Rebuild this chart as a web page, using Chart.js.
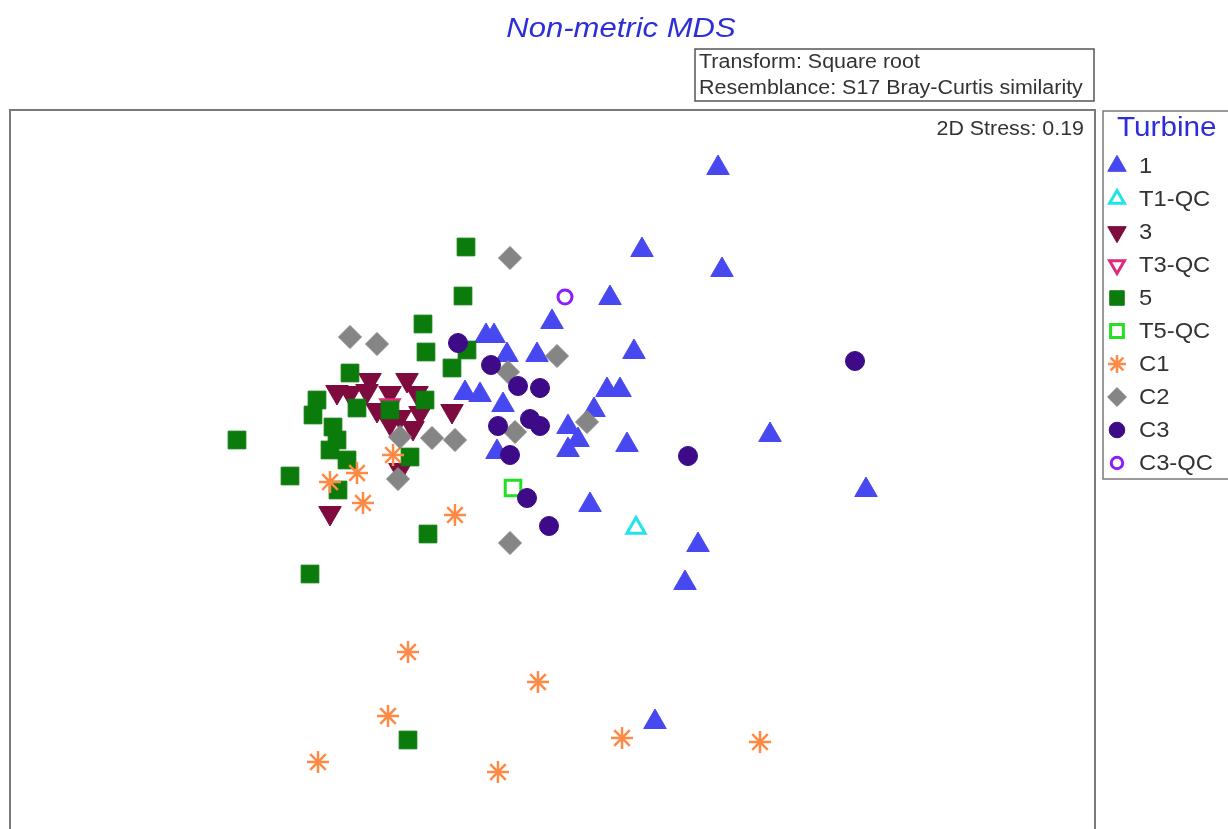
<!DOCTYPE html>
<html>
<head>
<meta charset="utf-8">
<title>Non-metric MDS</title>
<script src="https://cdn.jsdelivr.net/npm/chart.js@4.4.1/dist/chart.umd.min.js"></script>
<style>
  html, body { margin: 0; padding: 0; background: #fff; }
  #wrap { width: 1228px; height: 829px; }
</style>
</head>
<body>
<div id="wrap"><canvas id="mds" width="1228" height="829"></canvas></div>
<script>
// MDS coordinates (arbitrary units, one unit ~ 100px)
const turbine1 = [[1.68,3.32],[0.92,2.50],[1.72,2.30],[0.60,2.02],[0.02,1.78],[0.84,1.48],
  [-0.64,1.64],[-0.56,1.64],[-0.43,1.45],[-0.13,1.45],[-0.85,1.07],[-0.70,1.05],[-0.47,0.95],
  [0.57,1.10],[0.70,1.10],[0.44,0.90],[0.18,0.73],[0.28,0.60],[0.18,0.50],[0.77,0.55],
  [-0.53,0.48],[0.40,-0.05],[2.20,0.65],[3.16,0.10],[1.48,-0.45],[1.35,-0.83],[1.05,-2.22]];
const turbine1QC = [[0.86,-0.28]];
const turbine3 = [[-1.80,1.20],[-1.43,1.20],[-2.13,1.08],[-2.00,1.07],[-1.83,1.09],[-1.60,1.07],
  [-1.33,1.07],[-1.73,0.90],[-1.30,0.87],[-1.50,0.83],[-1.60,0.77],[-1.37,0.72],[-0.98,0.89],
  [-1.50,0.30],[-2.20,-0.13]];
const turbine3QC = [[-1.60,0.95]];
const turbine5 = [[-0.84,2.53],[-0.87,2.04],[-1.27,1.76],[-1.24,1.48],[-0.83,1.50],[-0.98,1.32],
  [-2.00,1.27],[-2.33,1.00],[-1.93,0.92],[-2.37,0.85],[-1.25,1.00],[-1.60,0.90],[-2.17,0.73],
  [-2.13,0.60],[-2.20,0.50],[-2.03,0.40],[-1.40,0.43],[-3.13,0.60],[-2.60,0.24],[-2.12,0.10],
  [-1.22,-0.34],[-2.40,-0.74],[-1.42,-2.40]];
const turbine5QC = [[-0.37,0.12]];
const control1 = [[-1.93,0.27],[-2.20,0.18],[-1.87,-0.03],[-1.57,0.45],[-0.95,-0.15],[-1.42,-1.52],
  [-0.12,-1.82],[-1.62,-2.16],[-2.32,-2.62],[-0.52,-2.72],[0.72,-2.38],[2.10,-2.42]];
const control2 = [[-0.40,2.42],[-2.00,1.63],[-1.73,1.56],[0.07,1.44],[-0.42,1.28],[0.37,0.78],
  [-0.35,0.68],[-1.50,0.63],[-1.18,0.62],[-0.95,0.60],[-1.52,0.21],[-0.40,-0.43]];
const control3 = [[-0.92,1.57],[-0.59,1.35],[-0.32,1.14],[-0.10,1.12],[-0.20,0.81],[-0.10,0.74],
  [-0.52,0.74],[-0.40,0.45],[-0.23,0.02],[-0.01,-0.26],[1.38,0.44],[3.05,1.39]];
const control3QC = [[0.15,2.03]];

const groupLabels = ['1', 'T1-QC', '3', 'T3-QC', '5', 'T5-QC', 'C1', 'C2', 'C3', 'C3-QC'];
const groupData = [turbine1, turbine1QC, turbine3, turbine3QC, turbine5, turbine5QC,
  control1, control2, control3, control3QC];

// marker styles, same order as the labels
const markers = [
  { style: 'triangle', rot: 0,   r: 13,  color: '#4848f0', fill: true,  bw: 1 },
  { style: 'triangle', rot: 0,   r: 10.5, color: '#22e4e8', fill: false, bw: 3 },
  { style: 'triangle', rot: 180, r: 13,  color: '#7e0a3e', fill: true,  bw: 1 },
  { style: 'triangle', rot: 180, r: 10.5, color: '#e02a7c', fill: false, bw: 3 },
  { style: 'rect',     rot: 0,   r: 12.5, color: '#0b7c0b', fill: true,  bw: 1 },
  { style: 'rect',     rot: 0,   r: 11,  color: '#22e022', fill: false, bw: 3 },
  { style: 'star',     rot: 0,   r: 11,  color: '#ff8a45', fill: false, bw: 2.5 },
  { style: 'rectRot',  rot: 0,   r: 11.5, color: '#858585', fill: true,  bw: 1 },
  { style: 'circle',   rot: 0,   r: 9.5, color: '#3d0a88', fill: true,  bw: 1 },
  { style: 'circle',   rot: 0,   r: 7,   color: '#8a1cff', fill: false, bw: 3 }
];

const xMin = -5.4, xMax = 5.45, yMin = -3.29, yMax = 3.90;

function stretchText(ctx, text, x, y, font, sx, align) {
  ctx.save();
  ctx.font = font;
  ctx.translate(x, y);
  ctx.scale(sx, 1);
  ctx.textAlign = align;
  ctx.fillText(text, 0, 0);
  ctx.restore();
}

const frame = {
  id: 'frame',
  afterDraw(chart) {
    const ctx = chart.ctx;
    const ff = '"Liberation Sans", Arial, sans-serif';
    ctx.save();
    ctx.textBaseline = 'alphabetic';
    // title
    ctx.fillStyle = '#2e2ed8';
    stretchText(ctx, 'Non-metric MDS', 621, 37, 'italic 27px ' + ff, 1.15, 'center');

    // transform box
    ctx.strokeStyle = '#555';
    ctx.lineWidth = 1.5;
    ctx.strokeRect(695, 49, 399, 52);
    ctx.fillStyle = '#333';
    stretchText(ctx, 'Transform: Square root', 699, 68, '19.5px ' + ff, 1.1, 'left');
    stretchText(ctx, 'Resemblance: S17 Bray-Curtis similarity', 699, 94, '19.5px ' + ff, 1.1, 'left');

    // plot frame
    ctx.strokeStyle = '#7a7a7a';
    ctx.lineWidth = 2;
    ctx.strokeRect(10, 110, 1085, 740);
    ctx.fillStyle = '#333';
    stretchText(ctx, '2D Stress: 0.19', 1084, 135, '20px ' + ff, 1.07, 'right');

    // legend
    ctx.strokeStyle = '#7a7a7a';
    ctx.lineWidth = 1.5;
    ctx.strokeRect(1103, 111, 140, 368);
    ctx.fillStyle = '#2e2ed8';
    stretchText(ctx, 'Turbine', 1117, 136, '27px ' + ff, 1.1, 'left');
    ctx.textBaseline = 'middle';
    groupLabels.forEach((label, i) => {
      const m = markers[i];
      const y = 166 + i * 33;
      ctx.fillStyle = m.fill ? m.color : '#fff';
      ctx.strokeStyle = m.color;
      ctx.lineWidth = m.bw;
      Chart.helpers.drawPoint(ctx, {
        pointStyle: m.style, rotation: m.rot, radius: m.r * 0.82, borderWidth: m.bw
      }, 1117, y);
      ctx.fillStyle = '#333';
      stretchText(ctx, label, 1139, y + 1, '22px ' + ff, 1.08, 'left');
    });
    ctx.restore();
  }
};

new Chart(document.getElementById('mds'), {
  type: 'scatter',
  data: {
    datasets: groupData.map((pts, i) => ({
      label: groupLabels[i],
      data: pts.map(p => ({ x: p[0], y: p[1] })),
      pointStyle: markers[i].style,
      pointRotation: markers[i].rot,
      pointRadius: markers[i].r,
      pointHoverRadius: markers[i].r,
      pointBackgroundColor: markers[i].fill ? markers[i].color : '#ffffff',
      pointBorderColor: markers[i].color,
      pointBorderWidth: markers[i].bw,
      order: groupData.length - i
    }))
  },
  options: {
    responsive: false,
    animation: false,
    events: [],
    layout: { autoPadding: false, padding: { left: 10, top: 110, right: 133, bottom: 0 } },
    scales: {
      x: { type: 'linear', min: xMin, max: xMax, display: false },
      y: { type: 'linear', min: yMin, max: yMax, display: false }
    },
    plugins: {
      legend: { display: false },
      tooltip: { enabled: false }
    }
  },
  plugins: [frame]
});
</script>
</body>
</html>
